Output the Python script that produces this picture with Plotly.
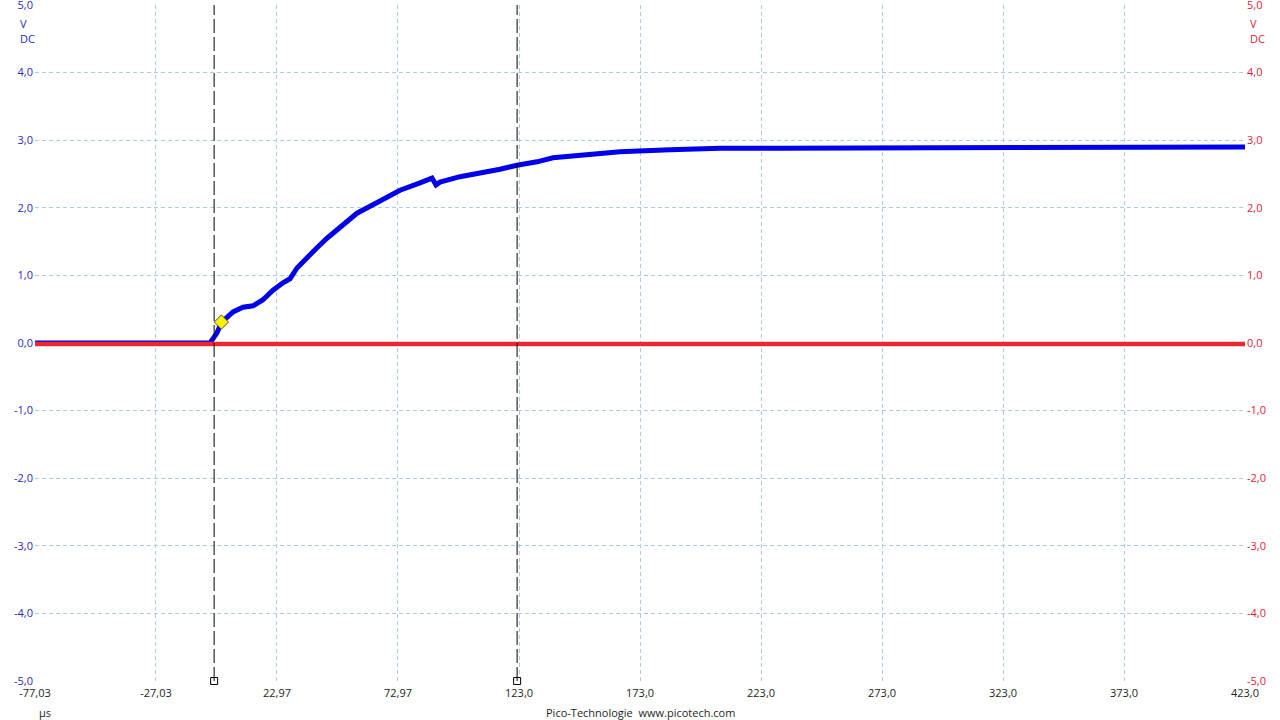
import plotly.graph_objects as go

# ---- data ----
x_tick_vals = [-77.03, -27.03, 22.97, 72.97, 123.0, 173.0, 223.0, 273.0, 323.0, 373.0, 423.0]
x_tick_text = ["-77,03", "-27,03", "22,97", "72,97", "123,0", "173,0", "223,0", "273,0", "323,0", "373,0", "423,0"]
y_tick_vals = [5, 4, 3, 2, 1, 0, -1, -2, -3, -4, -5]
y_tick_text = ["5,0", "4,0", "3,0", "2,0", "1,0", "0,0", "-1,0", "-2,0", "-3,0", "-4,0", "-5,0"]

chA_time = [-77.03, -60.0, -40.7, -40.5, -40.3, -20.0, -4.72, -1.82, 0.0, 2.31, 4.79, 8.92, 13.05,
            17.19, 21.32, 25.45, 28.34, 31.24, 35.37, 39.50, 43.63, 49.01, 56.04, 65.54,
            73.80, 82.07, 87.03, 88.68, 90.33, 98.60, 106.86, 115.13, 122.15, 130.42,
            137.03, 151.08, 164.72, 185.38, 206.04, 230.83, 280.42, 342.40, 423.0]
chA_volt = [0.0, 0.0, 0.0, -0.03, 0.0, 0.0, 0.0, 0.15, 0.30, 0.38, 0.46, 0.53, 0.55,
            0.64, 0.78, 0.89, 0.95, 1.11, 1.27, 1.41, 1.55, 1.72, 1.92, 2.10,
            2.26, 2.37, 2.44, 2.34, 2.38, 2.46, 2.51, 2.57, 2.63, 2.68,
            2.74, 2.78, 2.83, 2.86, 2.88, 2.88, 2.89, 2.90, 2.90]

chB_time = [-77.03, 423.0]
chB_volt = [-0.015, -0.015]

cursor_times = [-3.0, 122.2]
trigger_time = [0.0]
trigger_volt = [0.31]

blue_txt = "rgb(40,40,200)"
red_txt = "rgb(220,30,60)"
grid_col = "rgb(170,205,225)"

fig = go.Figure()

fig.add_trace(go.Scatter(x=chB_time, y=chB_volt, mode="lines",
                         line=dict(color="rgb(235,40,50)", width=4.5), yaxis="y2",
                         showlegend=False, hoverinfo="skip"))
fig.add_trace(go.Scatter(x=chA_time, y=chA_volt, mode="lines",
                         line=dict(color="rgb(0,0,235)", width=5),
                         showlegend=False, hoverinfo="skip"))

for ct in cursor_times:
    fig.add_shape(type="line", x0=ct, x1=ct, y0=-5, y1=5, xref="x", yref="y",
                  line=dict(color="black", width=1, dash="14px,4px"), layer="above")

fig.add_trace(go.Scatter(x=cursor_times, y=[-5] * len(cursor_times), mode="markers",
                         marker=dict(symbol="square", size=7, color="white",
                                     line=dict(color="black", width=1)),
                         cliponaxis=False, showlegend=False, hoverinfo="skip"))

fig.add_trace(go.Scatter(x=trigger_time, y=trigger_volt, mode="markers",
                         marker=dict(symbol="diamond", size=11, color="rgb(255,240,0)",
                                     line=dict(color="rgb(80,80,60)", width=1)),
                         showlegend=False, hoverinfo="skip"))

font_family = "Open Sans, DejaVu Sans, sans-serif"

fig.update_layout(
    width=1280, height=720,
    margin=dict(l=35, r=35, t=5, b=39, autoexpand=False),
    paper_bgcolor="white", plot_bgcolor="white",
    font=dict(family=font_family, size=11, color="black"),
    xaxis=dict(range=[-77.03, 423.0], tickvals=x_tick_vals, ticktext=x_tick_text,
               showgrid=True, gridcolor=grid_col, griddash="4px,3px", gridwidth=1,
               zeroline=False, showline=False, ticks="", ticklabelstandoff=4,
               ticklabeloverflow="allow", automargin=False,
               tickfont=dict(color="rgb(30,30,30)", size=11)),
    yaxis=dict(range=[-5, 5], tickvals=y_tick_vals, ticktext=y_tick_text,
               showgrid=True, gridcolor=grid_col, griddash="4px,3px", gridwidth=1,
               zeroline=False, showline=False, ticks="", ticklabelstandoff=1,
               ticklabeloverflow="allow", automargin=False,
               tickfont=dict(color=blue_txt, size=11)),
    yaxis2=dict(range=[-5, 5], tickvals=y_tick_vals, ticktext=y_tick_text,
                overlaying="y", side="right", showgrid=False, zeroline=False,
                showline=False, ticks="", ticklabelstandoff=1,
                ticklabeloverflow="allow", automargin=False,
                tickfont=dict(color=red_txt, size=11)),
)

ann = [
    dict(text="V", x=-0.014, y=0.973, xanchor="left", color=blue_txt),
    dict(text="DC", x=-0.014, y=0.951, xanchor="left", color=blue_txt),
    dict(text="V", x=1.0025, y=0.973, xanchor="left", color=red_txt),
    dict(text="DC", x=1.0025, y=0.951, xanchor="left", color=red_txt),
    dict(text="µs", x=0.0017, y=-0.047, xanchor="left", color="rgb(30,30,30)"),
    dict(text="Pico-Technologie  www.picotech.com", x=0.5, y=-0.046, xanchor="center",
         color="rgb(30,30,30)"),
]
for a in ann:
    fig.add_annotation(text=a["text"], x=a["x"], y=a["y"], xref="paper", yref="paper",
                       xanchor=a["xanchor"], yanchor="middle", showarrow=False,
                       font=dict(color=a["color"], size=11, family=font_family))

fig.write_html("out.html", config={"displayModeBar": False},
               post_script="document.body.style.margin='0';document.body.style.overflow='hidden';")
